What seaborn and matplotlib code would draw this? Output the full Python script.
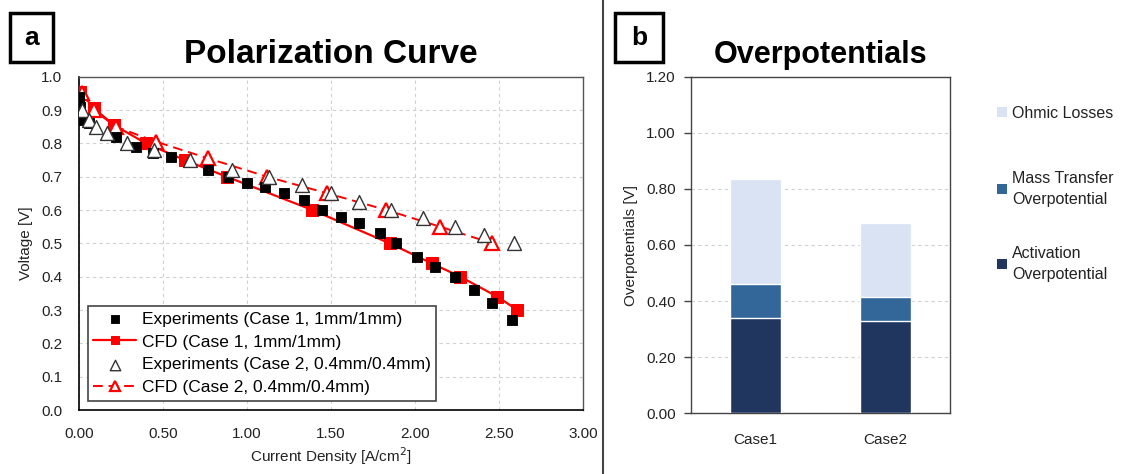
import matplotlib
matplotlib.use("Agg")
import matplotlib.pyplot as plt
import seaborn as sns
import pandas as pd
from matplotlib.patches import Rectangle, Patch
from matplotlib.lines import Line2D
from matplotlib.ticker import FormatStrFormatter, MultipleLocator

# ---------------- data ----------------
exp1_x = [0.00, 0.01, 0.02, 0.06, 0.22, 0.34, 0.44, 0.55, 0.77, 0.89, 1.00, 1.11, 1.22,
          1.34, 1.45, 1.56, 1.67, 1.79, 1.89, 2.01, 2.12, 2.24, 2.35, 2.46, 2.58]
exp1_y = [0.94, 0.91, 0.87, 0.86, 0.82, 0.79, 0.77, 0.76, 0.72, 0.70, 0.68, 0.67, 0.65,
          0.63, 0.60, 0.58, 0.56, 0.53, 0.50, 0.46, 0.43, 0.40, 0.36, 0.32, 0.27]

cfd1_x = [0.01, 0.09, 0.21, 0.40, 0.63, 0.88, 1.39, 1.85, 2.10, 2.27, 2.49, 2.61]
cfd1_y = [0.955, 0.905, 0.855, 0.80, 0.75, 0.70, 0.60, 0.50, 0.44, 0.40, 0.34, 0.30]

exp2_x = [0.02, 0.06, 0.10, 0.17, 0.29, 0.45, 0.66, 0.91, 1.13, 1.33, 1.50, 1.67, 1.86,
          2.05, 2.24, 2.41, 2.59]
exp2_y = [0.90, 0.87, 0.85, 0.83, 0.80, 0.78, 0.75, 0.72, 0.70, 0.675, 0.65, 0.625, 0.60,
          0.575, 0.55, 0.525, 0.50]

cfd2_x = [0.02, 0.09, 0.22, 0.46, 0.77, 1.12, 1.48, 1.83, 2.15, 2.46]
cfd2_y = [0.95, 0.90, 0.85, 0.805, 0.755, 0.70, 0.65, 0.60, 0.55, 0.50]

series_labels = ["Experiments (Case 1, 1mm/1mm)", "CFD (Case 1, 1mm/1mm)",
                 "Experiments (Case 2, 0.4mm/0.4mm)", "CFD (Case 2, 0.4mm/0.4mm)"]

cases = ["Case1", "Case2"]
activation = [0.34, 0.33]
mass_transfer = [0.12, 0.085]
ohmic = [0.375, 0.265]
bar_labels = ["Ohmic Losses", "Mass Transfer\nOverpotential", "Activation\nOverpotential"]

# ---------------- style ----------------
sns.set_style("white")
plt.rcParams["font.family"] = ["Liberation Sans", "DejaVu Sans"]
plt.rcParams["font.size"] = 11
plt.rcParams["text.color"] = "black"

W, H = 1130, 474
fig = plt.figure(figsize=(W / 100, H / 100), dpi=100)

def fx(px):
    return px / W

def fy(py):
    return 1 - py / H

RED = "#FF0000"
GRID = "#D0D0D0"

# ---------------- panel a ----------------
axa = fig.add_axes([fx(78.7), fy(410), fx(583) - fx(78.7), fy(76.7) - fy(410)])

sns.lineplot(x=cfd1_x, y=cfd1_y, ax=axa, color=RED, lw=1.6, marker="s", markersize=8,
             markeredgecolor=RED, sort=False, estimator=None, label=series_labels[1], zorder=3)
sns.lineplot(x=cfd2_x, y=cfd2_y, ax=axa, color=RED, lw=1.4, marker="^", markersize=10,
             markerfacecolor="white", markeredgecolor=RED, markeredgewidth=1.6,
             linestyle=(0, (5, 3)), sort=False, estimator=None, label=series_labels[3], zorder=3)
sns.scatterplot(x=exp1_x, y=exp1_y, ax=axa, color="black", marker="s", s=62,
                edgecolor="black", label=series_labels[0], zorder=4)
sns.scatterplot(x=exp2_x, y=exp2_y, ax=axa, color="white", marker="^", s=100,
                edgecolor="#333333", linewidth=1.0, label=series_labels[2], zorder=4)

axa.set_xlim(0, 3)
axa.set_ylim(0, 1)
axa.xaxis.set_major_locator(MultipleLocator(0.5))
axa.yaxis.set_major_locator(MultipleLocator(0.1))
axa.xaxis.set_major_formatter(FormatStrFormatter("%.2f"))
axa.yaxis.set_major_formatter(FormatStrFormatter("%.1f"))
axa.grid(True, color=GRID, linestyle=(0, (3, 3)), lw=0.8)
axa.tick_params(axis="both", labelsize=11, colors="#222222", length=0)
axa.tick_params(axis="x", pad=12)
axa.tick_params(axis="y", pad=12)
for s in ["left", "bottom"]:
    axa.spines[s].set_color("black")
    axa.spines[s].set_linewidth(1.2)
for s in ["top", "right"]:
    axa.spines[s].set_color("#555555")
    axa.spines[s].set_linewidth(1.0)
axa.set_xlabel("Current Density [A/cm$^2$]", fontsize=11, color="#222222", labelpad=3)
axa.set_ylabel("Voltage [V]", fontsize=11, color="#222222", labelpad=6)
axa.set_title("Polarization Curve", fontsize=24, fontweight="bold", pad=10, color="black")

h, l = axa.get_legend_handles_labels()
order = [l.index(x) for x in series_labels]
leg = axa.legend([h[i] for i in order], [l[i] for i in order], loc="lower left",
                 bbox_to_anchor=(0.018, 0.028), borderaxespad=0, fontsize=12.5,
                 frameon=True, fancybox=False, edgecolor="#444444", framealpha=1,
                 handlelength=2.5, labelspacing=0.45, borderpad=0.3, scatterpoints=1,
                 markerscale=0.75, handletextpad=0.3)
leg.get_frame().set_linewidth(1.2)

# ---------------- panel b ----------------
axb = fig.add_axes([fx(691), fy(413.3), fx(950) - fx(691), fy(76.7) - fy(413.3)])

tot_mass = [a + m for a, m in zip(activation, mass_transfer)]
tot_all = [a + m + o for a, m, o in zip(activation, mass_transfer, ohmic)]
dfb = pd.DataFrame({"case": cases, "act": activation, "mass": tot_mass, "all": tot_all})

C_ACT, C_MASS, C_OHM = "#21365F", "#336699", "#DAE3F3"
sns.barplot(data=dfb, x="case", y="all", ax=axb, color=C_OHM, width=0.39,
            edgecolor="white", linewidth=1.0, saturation=1, zorder=2)
sns.barplot(data=dfb, x="case", y="mass", ax=axb, color=C_MASS, width=0.39,
            edgecolor="white", linewidth=1.0, saturation=1, zorder=3)
sns.barplot(data=dfb, x="case", y="act", ax=axb, color=C_ACT, width=0.39,
            edgecolor="white", linewidth=1.0, saturation=1, zorder=4)

axb.set_xlim(-0.5, 1.5)
axb.set_ylim(0, 1.2)
axb.yaxis.set_major_formatter(FormatStrFormatter("%.2f"))
axb.set_yticks([0, 0.2, 0.4, 0.6, 0.8, 1.0, 1.2])
axb.yaxis.grid(True, color=GRID, linestyle=(0, (3, 3)), lw=0.8, zorder=0)
axb.set_axisbelow(True)
axb.set_xticks([0, 1])
axb.set_xticklabels(cases)
axb.set_xticks([-0.5, 0.5, 1.5], minor=True)
axb.tick_params(axis="x", which="major", length=0, pad=14, labelsize=11, colors="#222222")
axb.tick_params(axis="x", which="minor", length=5, direction="out", color="#444444", width=1)
axb.tick_params(axis="y", length=5, direction="out", color="#444444", width=1, pad=6,
                labelsize=11, labelcolor="#222222", left=True)
for s in axb.spines.values():
    s.set_color("#444444")
    s.set_linewidth(1.0)
axb.set_xlabel("")
axb.set_ylabel("Overpotentials [V]", fontsize=11, color="#222222", labelpad=6)
axb.set_title("Overpotentials", fontsize=22, fontweight="bold", pad=10, color="black")

# legend for panel b (three entries spread as in reference)
leg_pos = [(113, C_OHM, bar_labels[0]), (189, C_MASS, bar_labels[1]), (264, C_ACT, bar_labels[2])]
for ypix, col, lab in leg_pos:
    lg = fig.legend([Patch(facecolor=col, edgecolor="none")], [lab], loc="center left",
                    bbox_to_anchor=(fx(997), fy(ypix)), frameon=False, fontsize=11.5,
                    handlelength=0.6, handleheight=0.6, handletextpad=0.35, borderaxespad=0,
                    borderpad=0)
    for t in lg.get_texts():
        t.set_linespacing(1.45)
        t.set_color("#222222")

# ---------------- panel labels & divider ----------------
for (x0, x1, letter) in [(10, 53, "a"), (615, 663, "b")]:
    fig.add_artist(Rectangle((fx(x0), fy(62)), fx(x1) - fx(x0), fy(13) - fy(62),
                             transform=fig.transFigure, fill=False, edgecolor="black", lw=2.5))
    fig.text(fx((x0 + x1) / 2), fy(38), letter, ha="center", va="center",
             fontsize=19, fontweight="bold")

fig.add_artist(Line2D([fx(603), fx(603)], [0, 1], transform=fig.transFigure,
                      color="#444444", lw=1.5))

fig.savefig("out.png", dpi=100)
